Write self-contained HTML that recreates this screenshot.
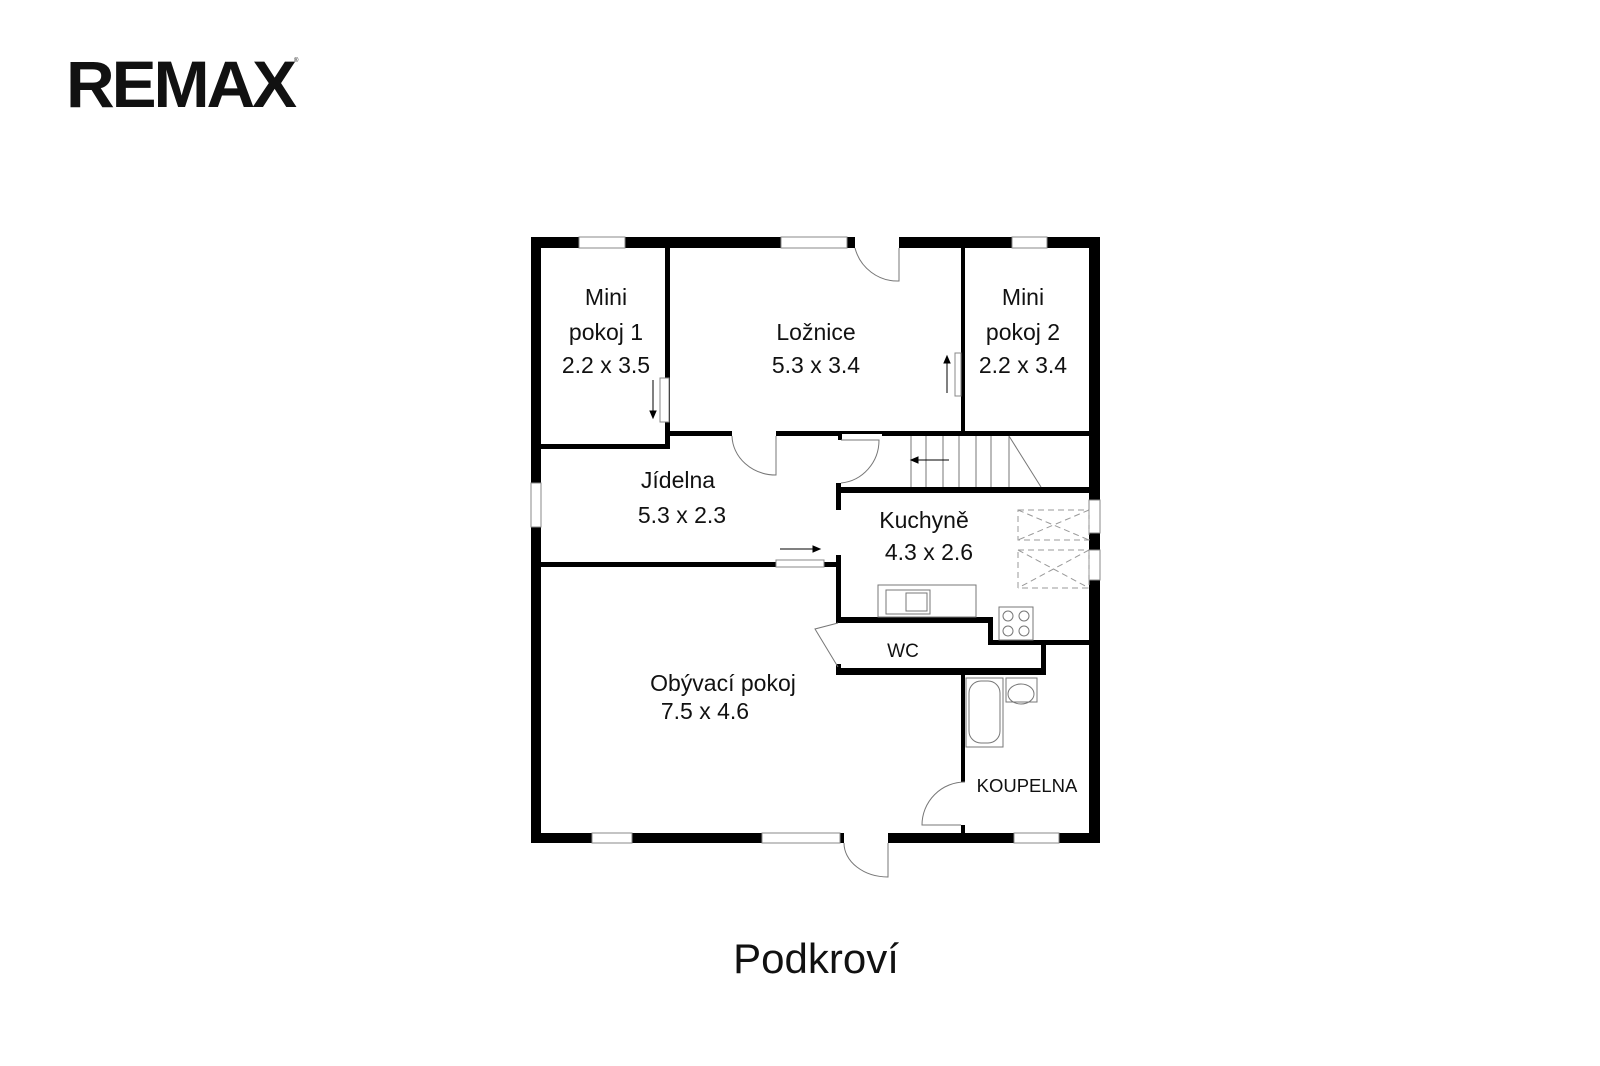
<!DOCTYPE html>
<html><head><meta charset="utf-8"><style>
html,body{margin:0;padding:0;background:#fff;}
svg{display:block;}
text{font-family:"Liberation Sans",sans-serif;fill:#111;}
</style></head><body>
<svg width="1600" height="1066" viewBox="0 0 1600 1066" xmlns="http://www.w3.org/2000/svg">
<text x="66" y="107" font-size="66" font-weight="bold" textLength="228" lengthAdjust="spacingAndGlyphs" style="letter-spacing:-3px">REMAX</text>
<text x="294" y="62" font-size="6">®</text>

<g fill="#000">
<rect x="531" y="237" width="569" height="11"/>
<rect x="531" y="237" width="10" height="606"/>
<rect x="1089" y="237" width="11" height="606"/>
<rect x="531" y="833" width="569" height="10"/>
<rect x="665" y="248" width="5" height="201"/>
<rect x="541" y="444" width="129" height="5"/>
<rect x="670" y="431" width="419" height="5"/>
<rect x="961" y="248" width="4" height="183"/>
<rect x="838" y="435" width="4" height="5"/>
<rect x="836" y="483" width="5" height="27"/>
<rect x="836" y="487" width="253" height="6"/>
<rect x="541" y="562" width="235" height="5"/>
<rect x="824" y="562" width="14" height="5"/>
<rect x="836" y="555" width="5" height="68"/>
<rect x="836" y="617" width="157" height="6"/>
<rect x="988" y="617" width="5" height="28"/>
<rect x="988" y="640" width="101" height="5"/>
<rect x="1041" y="640" width="5" height="35"/>
<rect x="836" y="668" width="210" height="7"/>
<rect x="836" y="664" width="5" height="11"/>
<rect x="961" y="675" width="4" height="107"/>
<rect x="961" y="825" width="4" height="10"/>
</g>
<g fill="#fff" stroke="#888" stroke-width="1">
<rect x="579" y="237" width="46" height="11"/>
<rect x="781" y="237" width="66" height="11"/>
<rect x="1012" y="237" width="35" height="11"/>
<rect x="592" y="833" width="40" height="10"/>
<rect x="762" y="833" width="78" height="10"/>
<rect x="1014" y="833" width="45" height="10"/>
<rect x="531" y="483" width="10" height="44"/>
<rect x="1089" y="500" width="11" height="33"/>
<rect x="1089" y="550" width="11" height="30"/>
<rect x="660" y="378" width="9" height="44"/>
<rect x="955" y="353" width="6" height="43"/>
<rect x="776" y="560" width="48" height="7"/>
</g>
<g fill="#fff">
<rect x="855" y="236" width="44" height="13"/>
<rect x="732" y="430" width="44" height="7"/>
<rect x="842" y="434" width="40" height="7"/>
<rect x="844" y="832" width="44" height="12"/>
</g>
<g fill="none" stroke="#777" stroke-width="1">
<path d="M899 248 L899 281 A44 44 0 0 1 855 248"/>
<path d="M776 436 L776 475 A44 40 0 0 1 732 436"/>
<path d="M841 440 L879 440 A42 43 0 0 1 841 483"/>
<path d="M888 843 L888 877 A44 34 0 0 1 844 843"/>
<path d="M965 782 A43 43 0 0 0 922 825 L961 825"/>
<path d="M838 623 L815 629 L838 667"/>
<path d="M911 436 V487 M926 436 V487 M943 436 V487 M959 436 V487 M976 436 V487 M991 436 V487 M1009 436 V487 M1009 436 L1041 487"/>
<rect x="878" y="585" width="98" height="32"/>
<rect x="886" y="590" width="44" height="24"/>
<rect x="906" y="593" width="21" height="18"/>
<rect x="999" y="607" width="34" height="33"/>
<circle cx="1008" cy="616" r="5"/><circle cx="1024" cy="616" r="5"/>
<circle cx="1008" cy="631" r="5"/><circle cx="1024" cy="631" r="5"/>
<rect x="966" y="678" width="37" height="69"/>
<rect x="969" y="681" width="31" height="62" rx="12"/>
<rect x="1006" y="678" width="31" height="24"/>
<ellipse cx="1021" cy="694" rx="13" ry="10"/>
</g>
<g fill="none" stroke="#999" stroke-width="1" stroke-dasharray="6 4">
<rect x="1018" y="510" width="71" height="30"/>
<rect x="1018" y="550" width="71" height="38"/>
<path d="M1018 510 L1089 540 M1089 510 L1018 540 M1018 550 L1089 588 M1089 550 L1018 588"/>
</g>
<g stroke="#000" stroke-width="1" fill="#000">
<line x1="653" y1="380" x2="653" y2="412"/><path d="M650 411 L656 411 L653 418Z"/>
<line x1="947" y1="393" x2="947" y2="362"/><path d="M944 363 L950 363 L947 356Z"/>
<line x1="949" y1="460" x2="917" y2="460"/><path d="M918 457 L918 463 L911 460Z"/>
<line x1="780" y1="549" x2="814" y2="549"/><path d="M813 546 L813 552 L820 549Z"/>
</g>
<g font-size="23" text-anchor="middle">
<text x="606" y="305">Mini</text>
<text x="606" y="340">pokoj 1</text>
<text x="606" y="373">2.2 x 3.5</text>
<text x="816" y="340">Ložnice</text>
<text x="816" y="373">5.3 x 3.4</text>
<text x="1023" y="305">Mini</text>
<text x="1023" y="340">pokoj 2</text>
<text x="1023" y="373">2.2 x 3.4</text>
<text x="678" y="488">Jídelna</text>
<text x="682" y="523">5.3 x 2.3</text>
<text x="924" y="528">Kuchyně</text>
<text x="929" y="560">4.3 x 2.6</text>
<text x="723" y="691">Obývací pokoj</text>
<text x="705" y="719">7.5 x 4.6</text>
</g>
<text x="903" y="657" font-size="19" text-anchor="middle">WC</text>
<text x="1027" y="792" font-size="18.5" text-anchor="middle">KOUPELNA</text>
<text x="816" y="973" font-size="42" text-anchor="middle">Podkroví</text>
</svg>
</body></html>
